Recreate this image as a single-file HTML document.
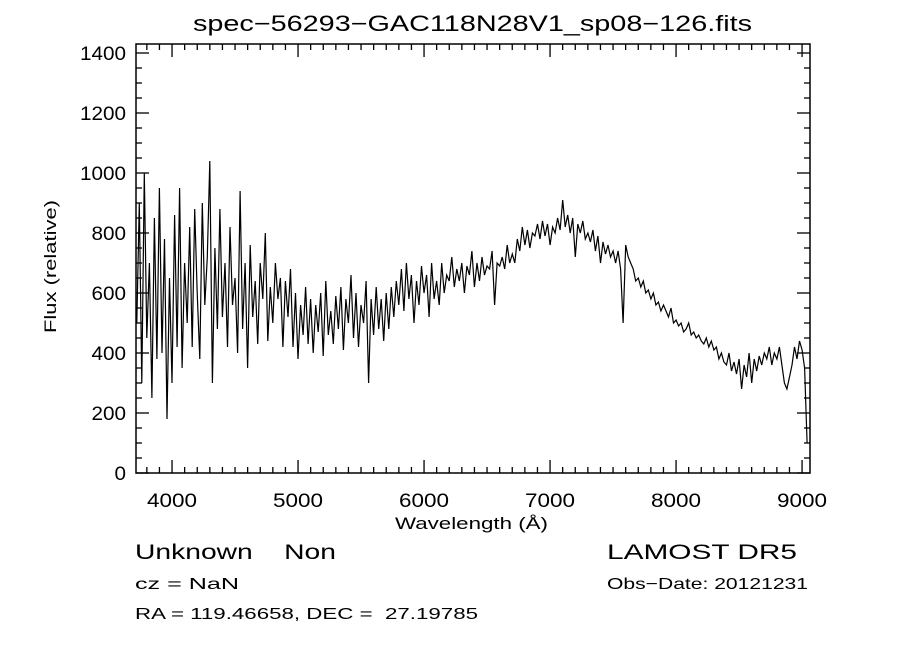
<!DOCTYPE html>
<html><head><meta charset="utf-8"><style>
body{margin:0;background:#fff;}
svg text{font-family:"Liberation Sans","DejaVu Sans",sans-serif;fill:#000;white-space:pre;}
</style></head><body>
<svg width="900" height="649" xmlns="http://www.w3.org/2000/svg" xml:space="preserve">
<rect width="900" height="649" fill="#fff"/>
<text x="193" y="31" font-size="22" textLength="559" lengthAdjust="spacingAndGlyphs">spec−56293−GAC118N28V1_sp08−126.fits</text>
<g id="axes"></g>
<path id="line" fill="none" stroke="#000" stroke-width="1.2"/>
<text x="395" y="529" font-size="17" textLength="153" lengthAdjust="spacingAndGlyphs">Wavelength (Å)</text>
<text transform="translate(56,333) rotate(-90)" font-size="17" textLength="133" lengthAdjust="spacingAndGlyphs">Flux (relative)</text>
<text x="135" y="559" font-size="21" textLength="201" lengthAdjust="spacingAndGlyphs">Unknown    Non</text>
<text x="607" y="559" font-size="21" textLength="190" lengthAdjust="spacingAndGlyphs">LAMOST DR5</text>
<text x="135" y="589" font-size="16" textLength="104" lengthAdjust="spacingAndGlyphs">cz = NaN</text>
<text x="607" y="589" font-size="16" textLength="201" lengthAdjust="spacingAndGlyphs">Obs−Date: 20121231</text>
<text x="135" y="619" font-size="16" textLength="343" lengthAdjust="spacingAndGlyphs">RA = 119.46658, DEC =  27.19785</text>
</svg>
<script>
const xTicks=[4000,5000,6000,7000,8000,9000];
const yTicks=[0,200,400,600,800,1000,1200,1400];
const waveStart=3720, waveStep=20;
const flux=[500,900,300,1000,450,700,250,850,380,950,
400,780,180,650,300,860,420,950,350,700,
500,820,420,880,600,380,900,560,720,1040,
300,750,480,880,520,700,420,820,560,650,
400,940,480,700,350,760,520,640,430,700,
580,800,440,620,500,700,580,650,420,640,
520,680,420,600,380,560,460,620,430,580,
400,560,470,600,390,640,460,540,430,590,
480,620,410,580,500,660,450,600,420,560,
500,640,300,580,460,620,480,580,440,600,
480,620,520,640,560,680,540,700,580,660,
500,640,560,690,600,660,520,700,580,640,
560,700,600,660,640,720,620,680,640,700,
600,690,660,740,620,700,640,720,660,690,
680,740,560,700,690,720,680,760,700,730,
700,780,740,820,760,810,750,800,790,830,
780,840,790,830,760,820,800,850,810,910,
820,860,800,850,720,830,800,840,780,800,
770,810,740,790,700,770,730,760,720,740,
700,740,680,500,760,720,700,680,640,650,
620,640,600,610,580,600,560,570,540,560,
540,520,550,500,510,490,500,470,480,500,
460,470,450,460,440,430,450,420,440,410,
420,380,400,370,360,400,340,370,330,380,
280,360,320,400,300,380,340,390,360,400,
380,420,360,400,380,420,360,300,280,320,
360,420,380,440,410,350,100];
const L=136,R=810,T=44,B=473,xmin=3714,xmax=9063,ymin=0,ymax=1430;
const X=v=>L+(v-xmin)/(xmax-xmin)*(R-L);
const Y=v=>B-(v-ymin)/(ymax-ymin)*(B-T);
const NS="http://www.w3.org/2000/svg";
const g=document.getElementById('axes');
function ln(x1,y1,x2,y2,w){const e=document.createElementNS(NS,'line');e.setAttribute('x1',x1);e.setAttribute('y1',y1);e.setAttribute('x2',x2);e.setAttribute('y2',y2);e.setAttribute('stroke','#000');e.setAttribute('stroke-width',w||1.3);g.appendChild(e);return e;}
const box=document.createElementNS(NS,'rect');


box.setAttribute('x',L);box.setAttribute('y',T);box.setAttribute('width',R-L);box.setAttribute('height',B-T);box.setAttribute('fill','none');box.setAttribute('stroke','#000');box.setAttribute('stroke-width',1.5);g.appendChild(box);
for(let v=3800;v<=9000;v+=100){const x=X(v);const maj=v%1000===0;ln(x,B,x,B-(maj?13:6));ln(x,T,x,T+(maj?13:6));}
for(let v=0;v<=1400;v+=50){const y=Y(v);const maj=v%200===0;ln(L,y,L+(maj?13:6),y);ln(R,y,R-(maj?13:6),y);}
xTicks.forEach(v=>{const t=document.createElementNS(NS,'text');


t.setAttribute('x',X(v)-25);t.setAttribute('y',B+34);t.setAttribute('font-size','19');t.setAttribute('textLength','50');t.setAttribute('lengthAdjust','spacingAndGlyphs');t.textContent=v;g.appendChild(t);});
yTicks.forEach(v=>{const t=document.createElementNS(NS,'text');


const s=String(v);
const w=s.length*11.5;
t.setAttribute('x',L-10-w);t.setAttribute('y',Y(v)+7);t.setAttribute('font-size','19');t.setAttribute('textLength',w);t.setAttribute('lengthAdjust','spacingAndGlyphs');t.textContent=s;g.appendChild(t);});
let d='';flux.forEach((f,i)=>{const w=waveStart+waveStep*i;d+=(i?'L':'M')+X(w).toFixed(1)+','+Y(f).toFixed(1);});
document.getElementById('line').setAttribute('d',d);
</script>
</body></html>
